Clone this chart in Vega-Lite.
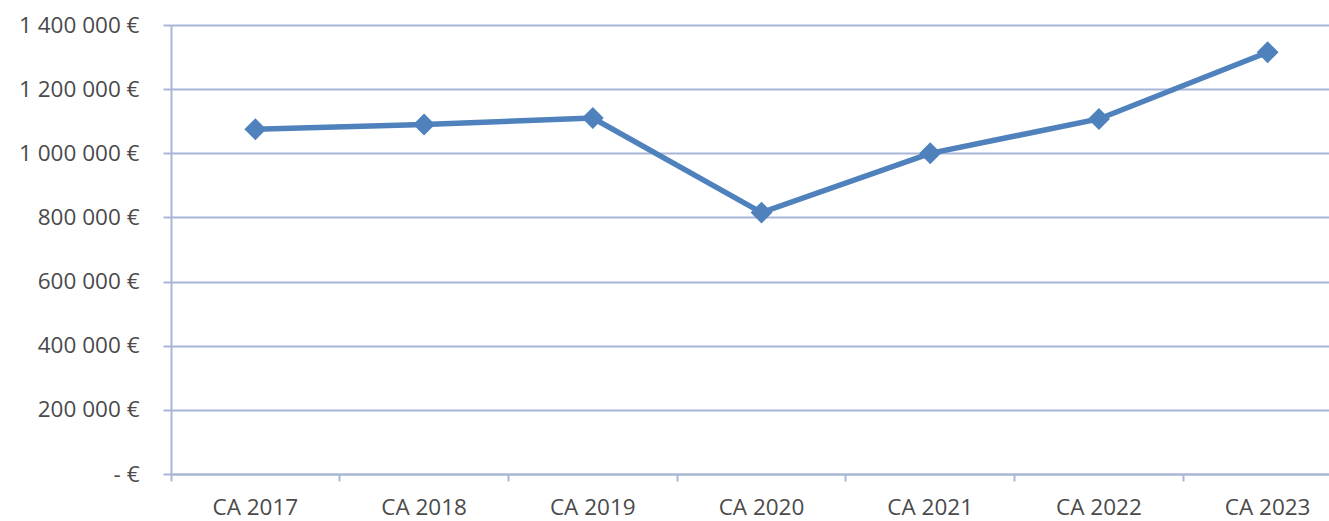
{
  "$schema": "https://vega.github.io/schema/vega-lite/v6.json",
  "autosize": "none",
  "padding": {"left": 171, "top": 25, "right": 0, "bottom": 47},
  "width": 1158,
  "height": 449,
  "background": "white",
  "data": {"values": [
    {"annee": "CA 2017", "ca": 1075000},
    {"annee": "CA 2018", "ca": 1090000},
    {"annee": "CA 2019", "ca": 1110000},
    {"annee": "CA 2020", "ca": 815000},
    {"annee": "CA 2021", "ca": 1000000},
    {"annee": "CA 2022", "ca": 1107000},
    {"annee": "CA 2023", "ca": 1315000}
  ]},
  "config": {
    "view": {"stroke": null},
    "axis": {"labelFont": "Open Sans", "labelFontSize": 22.5, "labelColor": "#4a4a4a", "domainColor": "#A9B6D8", "tickColor": "#A9B6D8", "gridColor": "#A9B6D8", "domainWidth": 2, "tickWidth": 2, "gridWidth": 2}
  },
  "encoding": {
    "x": {"field": "annee", "type": "nominal", "sort": null,
      "scale": {"type": "band", "range": [0, 1181], "paddingInner": 0, "paddingOuter": 0},
      "axis": {"title": null, "labelAngle": 0, "bandPosition": 0, "tickSize": 7, "labelPadding": 15, "grid": false}},
    "y": {"field": "ca", "type": "quantitative",
      "scale": {"domain": [0, 1400000], "nice": false},
      "axis": {"title": null, "values": [0, 200000, 400000, 600000, 800000, 1000000, 1200000, 1400000], "tickSize": 8, "labelPadding": 24, "grid": true,
        "labelExpr": "datum.value == 0 ? '- €' : replace(format(datum.value, ','), regexp(',', 'g'), ' ') + ' €'"}}
  },
  "layer": [
    {"mark": {"type": "line", "color": "#4F81BD", "strokeWidth": 5.5}},
    {"mark": {"type": "point", "shape": "diamond", "filled": true, "color": "#4F81BD", "opacity": 1, "size": 480}}
  ]
}
